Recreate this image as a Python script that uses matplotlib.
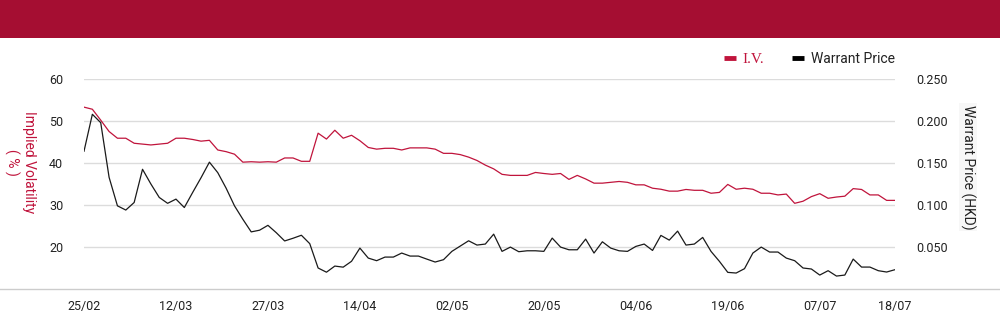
import matplotlib
matplotlib.use('Agg')
import matplotlib.pyplot as plt
from matplotlib.patches import Rectangle
from matplotlib.lines import Line2D
from matplotlib.ticker import FormatStrFormatter

plt.rcParams['font.family'] = ['Roboto', 'DejaVu Sans']

# ---- data (one value per trading day, 25/02 .. 18/07) ----
iv = [53.3, 52.8, 50.2, 47.5, 45.9, 45.9, 44.7, 44.5, 44.3, 44.5,
      44.7, 45.9, 45.9, 45.6, 45.2, 45.4, 43.1, 42.7, 42.1, 40.2,
      40.3, 40.2, 40.3, 40.2, 41.2, 41.2, 40.4, 40.4, 47.1, 45.7,
      47.8, 45.9, 46.6, 45.3, 43.7, 43.3, 43.5, 43.5, 43.1, 43.6,
      43.6, 43.6, 43.3, 42.3, 42.3, 42.0, 41.4, 40.6, 39.5, 38.6,
      37.3, 37.05, 37.05, 37.05, 37.75, 37.5, 37.3, 37.5, 36.1, 37.05,
      36.2, 35.2, 35.2, 35.4, 35.6, 35.4, 34.8, 34.8, 34.0, 33.75,
      33.3, 33.3, 33.7, 33.5, 33.5, 32.8, 33.0, 34.9, 33.75, 34.0,
      33.75, 32.8, 32.8, 32.4, 32.6, 30.4, 30.9, 32.0, 32.7, 31.6,
      31.9, 32.1, 33.9, 33.7, 32.4, 32.4, 31.1, 31.1]

warrant_price = [0.164, 0.208, 0.198, 0.133, 0.099, 0.094, 0.103, 0.1425, 0.125, 0.109,
                 0.102, 0.107, 0.097, 0.115, 0.1325, 0.151, 0.1385, 0.120, 0.099, 0.083,
                 0.068, 0.070, 0.0758, 0.067, 0.0572, 0.0604, 0.064, 0.054, 0.025, 0.020,
                 0.0273, 0.026, 0.033, 0.0487, 0.0368, 0.0337, 0.038, 0.038, 0.0428, 0.0392,
                 0.0392, 0.0356, 0.0321, 0.0349, 0.0448, 0.0511, 0.0574, 0.0523, 0.0535, 0.0653,
                 0.0448, 0.0499, 0.0444, 0.0455, 0.0455, 0.0448, 0.0606, 0.0499, 0.0467, 0.0467,
                 0.0594, 0.0428, 0.0562, 0.0487, 0.0455, 0.0448, 0.0507, 0.0535, 0.0459, 0.0638,
                 0.0582, 0.0689, 0.0523, 0.0535, 0.0614, 0.0447, 0.0329, 0.0198, 0.019, 0.0242,
                 0.0428, 0.0499, 0.044, 0.044, 0.0368, 0.0337, 0.025, 0.0238, 0.0166, 0.0218,
                 0.0154, 0.0166, 0.0356, 0.0261, 0.0261, 0.0218, 0.0202, 0.023]

tick_index = [0, 11, 22, 33, 44, 55, 66, 77, 88, 97]
tick_labels = ['25/02', '12/03', '27/03', '14/04', '02/05', '20/05',
               '04/06', '19/06', '07/07', '18/07']
iv_ticks = [20, 30, 40, 50, 60]
price_ticks = [0.05, 0.10, 0.15, 0.20, 0.25]

# ---- style ----
RED = '#C0143C'
HEADER = '#A50E32'
W, H = 1000, 324

fig = plt.figure(figsize=(W / 100, H / 100), dpi=100)
fig.patch.set_facecolor('white')
fig.patches.append(Rectangle((0, (H - 38) / H), 1, 38 / H, transform=fig.transFigure,
                             facecolor=HEADER, edgecolor='none', zorder=0))

ax = fig.add_axes([84 / W, 35 / H, 811 / W, 210 / H])
x = list(range(len(iv)))
ax.plot(x, iv, color=RED, lw=0.9, zorder=3)
ax.set_xlim(0, len(iv) - 1)
ax.set_ylim(10, 60)
ax.set_yticks(iv_ticks)
ax.grid(axis='y', color='#dcdcdc', lw=1)
ax.set_xticks(tick_index)
ax.set_xticklabels(tick_labels)
for s in ax.spines.values():
    s.set_visible(False)
ax.tick_params(axis='both', length=0, labelsize=9, colors='#222222')
ax.tick_params(axis='y', pad=15)
ax.tick_params(axis='x', pad=8)

ax2 = ax.twinx()
ax2.plot(x, warrant_price, color='#1a1a1a', lw=0.9, zorder=3)
ax2.set_ylim(0, 0.25)
ax2.set_yticks(price_ticks)
ax2.yaxis.set_major_formatter(FormatStrFormatter('%.3f'))
for s in ax2.spines.values():
    s.set_visible(False)
ax2.tick_params(axis='y', length=0, labelsize=9, colors='#222222', pad=15)

# full-width baseline
fig.add_artist(Line2D([0, 1], [35 / H, 35 / H], transform=fig.transFigure,
                      color='#cccccc', lw=1))

# axis titles
fig.text(20 / W, (H - 162) / H, 'Implied Volatility\n( % )', rotation=270,
         color=RED, ha='center', va='center', fontsize=10, multialignment='center')
fig.text(968 / W, (H - 167) / H, 'Warrant Price (HKD)', rotation=270,
         color='#222222', ha='center', va='center', fontsize=10,
         bbox=dict(facecolor='#f7f7f7', edgecolor='none', pad=1))

# legend
handles = [Line2D([], [], color=RED, lw=3.5, solid_capstyle='butt'),
           Line2D([], [], color='black', lw=3.5, solid_capstyle='butt')]
leg = fig.legend(handles, ['I.V.', 'Warrant Price'], loc='center right',
                 bbox_to_anchor=(895 / W, (H - 59) / H), ncol=2, frameon=False,
                 fontsize=10, handlelength=0.85, handletextpad=0.5,
                 columnspacing=2.0, borderaxespad=0, borderpad=0)
t_iv, t_wp = leg.get_texts()
t_iv.set_color(RED)
t_iv.set_fontfamily(['Liberation Serif', 'DejaVu Serif'])
t_iv.set_fontsize(11)
t_wp.set_color('#222222')

fig.savefig('out.png', dpi=100)
